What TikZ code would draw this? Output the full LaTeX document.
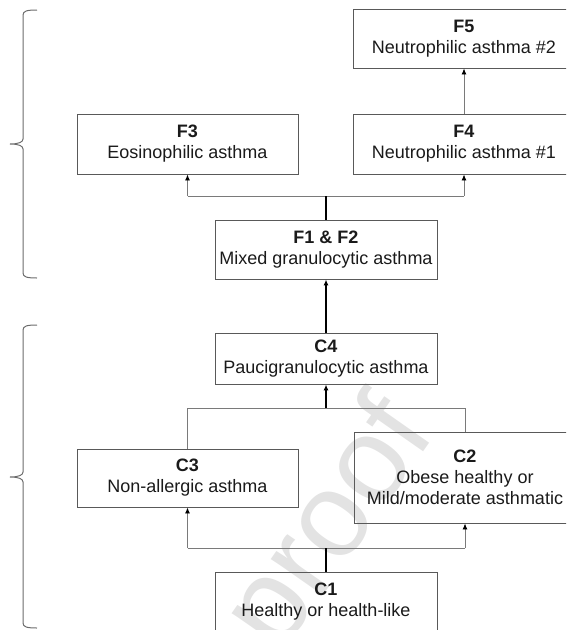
\documentclass[tikz,border=0pt]{standalone}
\usepackage{fontspec}
\setmainfont{Liberation Sans}
\usetikzlibrary{arrows.meta}
\definecolor{boxgray}{HTML}{595959}
\definecolor{linegray}{HTML}{7A7A7A}
\definecolor{txt}{HTML}{1A1A1A}
\definecolor{bracegray}{HTML}{6B6B6B}
\definecolor{wmgray}{HTML}{E3E3E3}
\tikzset{
  box/.style={draw=boxgray, line width=0.9pt, text=txt, align=center,
    minimum width=222pt, inner sep=0pt, font=\fontsize{18}{21}\selectfont},
  conn/.style={draw=linegray, line width=0.9pt},
  stem/.style={draw=black, line width=1.6pt},
  tip/.style={-{Latex[length=6pt,width=5pt,color=black]}},
  bracestyle/.style={draw=bracegray, line width=1pt},
}
\begin{document}
\begin{tikzpicture}[x=1pt,y=-1pt]
\useasboundingbox (0,0) rectangle (566,630);
\clip (0,0) rectangle (566,630);
% watermark (behind)
\node[rotate=55, text=wmgray, font=\fontsize{120}{120}\selectfont] (wm) at (333,527) {proof};
% boxes
\node[box, minimum height=59pt] (f5) at (464,38.5) {\textbf{F5}\\Neutrophilic asthma \#2};
\node[box, minimum height=60pt] (f4) at (464,144) {\textbf{F4}\\Neutrophilic asthma \#1};
\node[box, minimum width=221pt, minimum height=60pt] (f3) at (187.5,144) {\textbf{F3}\\Eosinophilic asthma};
\node[box, minimum height=59pt] (f12) at (326,249.5) {\textbf{F1 \& F2}\\Mixed granulocytic asthma};
\node[box, minimum height=51pt] (c4) at (326,358.5) {\textbf{C4}\\Paucigranulocytic asthma};
\node[box, minimum width=221pt, minimum height=58pt] (c3) at (187.5,478) {\textbf{C3}\\Non-allergic asthma};
\node[box, minimum height=91pt] (c2) at (465,477.5) {\textbf{C2}\\Obese healthy or\\Mild/moderate asthmatic};
\node[box, minimum height=60pt] (c1) at (326,602) {\textbf{C1}\\Healthy or health-like};
% junctions
\coordinate (j1) at (326,196);
\coordinate (j1l) at (f3 |- j1);
\coordinate (j1r) at (f4 |- j1);
\coordinate (j2) at (326,408);
\coordinate (j2l) at (c3 |- j2);
\coordinate (j2r) at (c2 |- j2);
\coordinate (j3) at (326,548);
\coordinate (j3l) at (c3 |- j3);
\coordinate (j3r) at (c2 |- j3);
% connectors
\draw[conn, tip] (f4.north) -- (f5.south);
\draw[conn] (j1l) -- (j1r);
\draw[conn, tip] (j1l) -- (f3.south);
\draw[conn, tip] (j1r) -- (f4.south);
\draw[stem] (f12.north) -- (j1);
\draw[stem, tip] (c4.north) -- (f12.south);
\draw[conn] (c3.north) -- (j2l) -- (j2r) -- (c2.north);
\draw[stem, tip] (j2) -- (c4.south);
\draw[conn] (j3l) -- (j3r);
\draw[conn, tip] (j3l) -- (c3.south);
\draw[conn, tip] (j3r) -- (c2.south);
\draw[stem] (c1.north) -- (j3);
% braces
\draw[bracestyle] (37,10) .. controls (27,10) and (23,11) .. (23,15) -- (23,139)
  .. controls (23,142) and (19,144) .. (10,144)
  .. controls (19,144) and (23,146) .. (23,149) -- (23,273)
  .. controls (23,277) and (27,278) .. (37,278);
\draw[bracestyle] (37,325) .. controls (27,325) and (23,326) .. (23,330) -- (23,472)
  .. controls (23,475) and (19,477) .. (10,477)
  .. controls (19,477) and (23,479) .. (23,482) -- (23,623)
  .. controls (23,627) and (27,628) .. (37,628);
\end{tikzpicture}
\end{document}
